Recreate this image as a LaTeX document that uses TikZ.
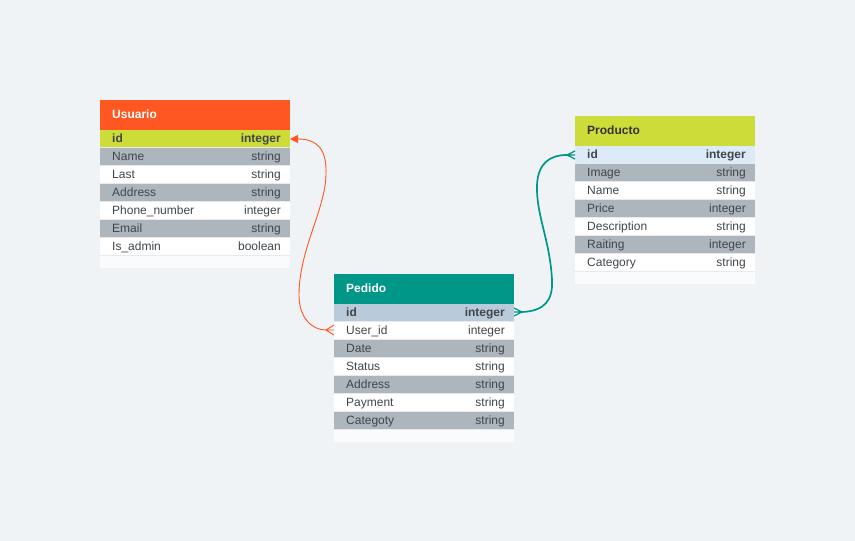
\documentclass[tikz,border=0pt]{standalone}
\usepackage{fontspec}
\setmainfont{Liberation Sans}
\usetikzlibrary{arrows.meta}
\definecolor{bg}{HTML}{EFF3F6}
\definecolor{orangeh}{HTML}{FF5722}
\definecolor{limeh}{HTML}{CDDC39}
\definecolor{tealh}{HTML}{009688}
\definecolor{grayr}{HTML}{ADB5BD}
\definecolor{steelr}{HTML}{B9CADB}
\definecolor{skyr}{HTML}{DDEBF8}
\definecolor{footr}{HTML}{FAFBFC}
\definecolor{sepc}{HTML}{E6EAED}
\definecolor{txt}{HTML}{40464C}
\definecolor{txtb}{HTML}{333333}
\tikzset{
  rowbox/.style={rectangle, anchor=north west, inner sep=0, outer sep=0, minimum height=18, draw=none,
    path picture={\draw[sepc,line width=2pt] (path picture bounding box.south west) -- (path picture bounding box.south east);}},
  hdrbox/.style={rectangle, anchor=north west, inner sep=0, outer sep=0, minimum height=30, draw=none},
  footbox/.style={rectangle, anchor=north west, inner sep=0, outer sep=0, minimum height=12, fill=footr, draw=none},
  nametxt/.style={anchor=base west, inner sep=0, text=txt, font=\fontsize{12}{14}\selectfont},
  typetxt/.style={anchor=base east, inner sep=0, text=txt, font=\fontsize{12}{14}\selectfont},
  hdrtxt/.style={anchor=base west, inner sep=0, font=\fontsize{12}{14}\selectfont\bfseries},
  rel1/.style={draw=orangeh, line width=0.9pt},
  rel2/.style={draw=tealh, line width=1.7pt},
}
\begin{document}
\begin{tikzpicture}[x=1pt,y=-1pt]
\useasboundingbox[fill=bg] (0,0) rectangle (855,541);

% ---------- Usuario ----------
\node[hdrbox, fill=orangeh, minimum width=190] (uh) at (100,100) {};
\node[hdrtxt, text=white] (uht) at ([xshift=12pt,yshift=-18pt]uh.north west) {Usuario};
\foreach \n/\t/\c [count=\i] in {{\bfseries id}/{\bfseries integer}/limeh, Name/string/grayr, Last/string/white, Address/string/grayr, Phone\_number/integer/white, Email/string/grayr, Is\_admin/boolean/white}{
  \node[rowbox, fill=\c, minimum width=190] (u\i) at (100,{130+18*(\i-1)}) {};
  \node[nametxt] (u\i n) at ([xshift=12pt,yshift=-12.4pt]u\i.north west) {\n};
  \node[typetxt] (u\i t) at ([xshift=-9pt,yshift=-12.4pt]u\i.north east) {\t};
}
\node[footbox, minimum width=190] (uf) at (100,256) {};

% ---------- Pedido ----------
\node[hdrbox, fill=tealh, minimum width=180] (ph) at (334,274) {};
\node[hdrtxt, text=white] (pht) at ([xshift=12pt,yshift=-18pt]ph.north west) {Pedido};
\foreach \n/\t/\c [count=\i] in {{\bfseries id}/{\bfseries integer}/steelr, User\_id/integer/white, Date/string/grayr, Status/string/white, Address/string/grayr, Payment/string/white, Categoty/string/grayr}{
  \node[rowbox, fill=\c, minimum width=180] (p\i) at (334,{304+18*(\i-1)}) {};
  \node[nametxt] (p\i n) at ([xshift=12pt,yshift=-12.4pt]p\i.north west) {\n};
  \node[typetxt] (p\i t) at ([xshift=-9pt,yshift=-12.4pt]p\i.north east) {\t};
}
\node[footbox, minimum width=180] (pf) at (334,430) {};

% ---------- Producto ----------
\node[hdrbox, fill=limeh, minimum width=180] (rh) at (575,116) {};
\node[hdrtxt, text=txtb] (rht) at ([xshift=12pt,yshift=-18pt]rh.north west) {Producto};
\foreach \n/\t/\c [count=\i] in {{\bfseries id}/{\bfseries integer}/skyr, Image/string/grayr, Name/string/white, Price/integer/grayr, Description/string/white, Raiting/integer/grayr, Category/string/white}{
  \node[rowbox, fill=\c, minimum width=180] (r\i) at (575,{146+18*(\i-1)}) {};
  \node[nametxt] (r\i n) at ([xshift=12pt,yshift=-12.4pt]r\i.north west) {\n};
  \node[typetxt] (r\i t) at ([xshift=-9pt,yshift=-12.4pt]r\i.north east) {\t};
}
\node[footbox, minimum width=180] (rf) at (575,272) {};

% ---------- Relations ----------
\coordinate (of) at ([xshift=-8pt,yshift=1pt]p2.west);
\draw[rel1, -{Triangle[length=8pt,width=8pt]}] (of)
  .. controls (312,330) and (299,318) .. (299,295)
  .. controls (299,250) and (325,210) .. (326,175)
  .. controls (327,150) and (318,139) .. (u1.east);
\draw[rel1] (of) -- ([yshift=6pt]p2.west) (of) -- ([yshift=1pt]p2.west) (of) -- ([yshift=-4pt]p2.west);

\coordinate (tf1) at ([xshift=8pt,yshift=1pt]p1.east);
\coordinate (tf2) at ([xshift=-8pt]r1.west);
\draw[rel2] (tf1)
  .. controls (545,311) and (553,300) .. (552,280)
  .. controls (550,240) and (536,215) .. (537,185)
  .. controls (538,163) and (550,155) .. (tf2);
\draw[rel2, line width=1.3pt] (tf1) -- ([yshift=5pt]p1.east) (tf1) -- ([yshift=1pt]p1.east) (tf1) -- ([yshift=-3pt]p1.east);
\draw[rel2, line width=1.3pt] (tf2) -- ([yshift=4pt]r1.west) (tf2) -- (r1.west) (tf2) -- ([yshift=-4pt]r1.west);
\end{tikzpicture}
\end{document}
